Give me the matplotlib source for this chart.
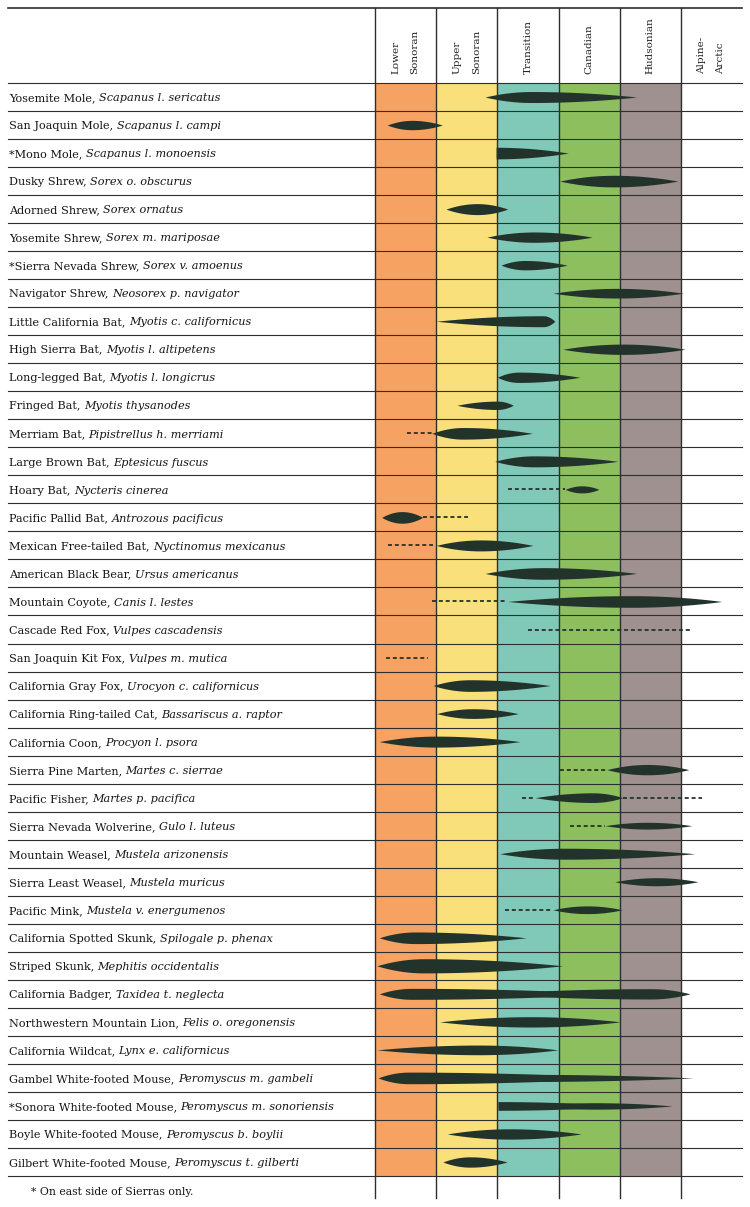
import numpy as np
import matplotlib
matplotlib.use("Agg")
import matplotlib.pyplot as plt

# zones across the top (life zones of the Sierra)
zones = ["Lower\nSonoran", "Upper\nSonoran", "Transition", "Canadian", "Hudsonian", "Alpine-\nArctic"]
zone_colors = ["#f6a263", "#f9e07a", "#80c8b7", "#8dbf5f", "#9e918f", "white"]

common = [
    "Yosemite Mole,", "San Joaquin Mole,", "*Mono Mole,", "Dusky Shrew,", "Adorned Shrew,",
    "Yosemite Shrew,", "*Sierra Nevada Shrew,", "Navigator Shrew,", "Little California Bat,",
    "High Sierra Bat,", "Long-legged Bat,", "Fringed Bat,", "Merriam Bat,", "Large Brown Bat,",
    "Hoary Bat,", "Pacific Pallid Bat,", "Mexican Free-tailed Bat,", "American Black Bear,",
    "Mountain Coyote,", "Cascade Red Fox,", "San Joaquin Kit Fox,", "California Gray Fox,",
    "California Ring-tailed Cat,", "California Coon,", "Sierra Pine Marten,", "Pacific Fisher,",
    "Sierra Nevada Wolverine,", "Mountain Weasel,", "Sierra Least Weasel,", "Pacific Mink,",
    "California Spotted Skunk,", "Striped Skunk,", "California Badger,",
    "Northwestern Mountain Lion,", "California Wildcat,", "Gambel White-footed Mouse,",
    "*Sonora White-footed Mouse,", "Boyle White-footed Mouse,", "Gilbert White-footed Mouse,",
]
latin = [
    "Scapanus l. sericatus", "Scapanus l. campi", "Scapanus l. monoensis", "Sorex o. obscurus",
    "Sorex ornatus", "Sorex m. mariposae", "Sorex v. amoenus", "Neosorex p. navigator",
    "Myotis c. californicus", "Myotis l. altipetens", "Myotis l. longicrus", "Myotis thysanodes",
    "Pipistrellus h. merriami", "Eptesicus fuscus", "Nycteris cinerea", "Antrozous pacificus",
    "Nyctinomus mexicanus", "Ursus americanus", "Canis l. lestes", "Vulpes cascadensis",
    "Vulpes m. mutica", "Urocyon c. californicus", "Bassariscus a. raptor", "Procyon l. psora",
    "Martes c. sierrae", "Martes p. pacifica", "Gulo l. luteus", "Mustela arizonensis",
    "Mustela muricus", "Mustela v. energumenos", "Spilogale p. phenax", "Mephitis occidentalis",
    "Taxidea t. neglecta", "Felis o. oregonensis", "Lynx e. californicus",
    "Peromyscus m. gambeli", "Peromyscus m. sonoriensis", "Peromyscus b. boylii",
    "Peromyscus t. gilberti",
]

# range spindles: row, start, peak, end (in zone units), abundance
sp_row = [0, 1, 2, 3, 4, 5, 6, 7, 8, 9, 10, 11, 12, 13, 14, 15, 16, 17, 18, 21, 22, 23,
          24, 25, 26, 27, 28, 29, 30, 31, 32, 32, 33, 34, 35, 35, 36, 36, 37, 38]
sp_start = [1.80, 0.20, 1.98, 3.02, 1.16, 1.83, 2.06, 2.91, 1.00, 3.07, 2.00, 1.34, 0.93, 1.96,
            3.11, 0.11, 1.00, 1.80, 2.17, 0.95, 1.01, 0.07, 3.79, 2.62, 3.76, 2.04, 3.92, 2.91,
            0.07, 0.03, 0.07, 1.80, 1.06, 0.03, 0.05, 0.50, 2.01, 2.50, 1.18, 1.11]
sp_peak = [2.55, 0.60, 1.98, 3.90, 1.67, 2.60, 2.45, 3.96, 2.75, 4.05, 2.35, 2.00, 1.44, 2.60,
           3.38, 0.44, 1.72, 2.75, 4.20, 1.55, 1.60, 1.00, 4.45, 3.56, 4.45, 3.10, 4.60, 3.47,
           0.65, 0.80, 0.60, 4.50, 2.55, 1.70, 0.55, 2.50, 2.01, 3.60, 2.20, 1.55]
sp_end = [4.28, 1.10, 3.16, 4.95, 2.17, 3.55, 3.14, 5.04, 2.94, 5.07, 3.35, 2.26, 2.57, 3.97,
          3.66, 0.78, 2.58, 4.28, 5.67, 2.86, 2.34, 2.37, 5.13, 4.05, 5.18, 5.23, 5.28, 4.04,
          2.47, 3.07, 3.90, 5.15, 4.01, 2.99, 4.00, 5.20, 4.10, 4.86, 3.37, 2.16]
sp_abund = [0.34, 0.29, 0.36, 0.36, 0.34, 0.32, 0.29, 0.30, 0.34, 0.32, 0.32, 0.26, 0.36, 0.34,
            0.22, 0.36, 0.34, 0.36, 0.36, 0.36, 0.30, 0.34, 0.32, 0.30, 0.21, 0.34, 0.25, 0.24,
            0.36, 0.44, 0.34, 0.32, 0.32, 0.30, 0.36, 0.22, 0.27, 0.20, 0.32, 0.32]

# doubtful / scattered records: row, start, end
ds_row = [12, 14, 15, 16, 18, 19, 20, 24, 25, 25, 26, 29]
ds_start = [0.52, 2.17, 0.78, 0.21, 0.93, 2.50, 0.18, 3.02, 2.40, 4.05, 3.19, 2.13]
ds_end = [0.93, 3.11, 1.52, 0.95, 2.16, 5.15, 0.87, 3.79, 2.62, 5.35, 3.76, 2.91]

ink = "#22332c"
rule = "#2e2e2e"
serif = ["DejaVu Serif"]
thick = 1.15

W, H = 750, 1207
fig = plt.figure(figsize=(W / 100, H / 100), dpi=100)
ax = fig.add_axes([375 / W, 1 - 1176 / H, 367 / W, (1176 - 83) / H])
nrow = len(common)
ax.set_xlim(0, 6)
ax.set_ylim(nrow - 0.5, -0.5)
ax.set_axis_off()

# coloured zone columns
ax.bar(np.arange(5) + 0.5, nrow, bottom=-0.5, width=1.0, color=zone_colors[:5], lw=0, zorder=0)

top = -0.5 - 75 / 28.03
foot = nrow - 0.5 + 22 / 28.03
left = -6.0

# row rules
for y in np.arange(nrow + 1) - 0.5:
    ax.plot([left, 6], [y, y], color=rule, lw=0.8, clip_on=False, zorder=1)
ax.plot([left, 6], [top, top], color=rule, lw=1.2, clip_on=False, zorder=1)
for x in range(6):
    ax.plot([x, x], [top, foot], color=rule, lw=1.0, clip_on=False, zorder=1)

# zone headings
hdr_x = [0.5, 1.5, 2.5, 3.5, 4.5, 5.5]
for x, z in zip(hdr_x, zones):
    ax.text(x, -0.5 - 9 / 28.03, z, rotation=90, ha="center", va="bottom",
            multialignment="left", linespacing=2.4, fontsize=7.5, family=serif,
            color="#222222", clip_on=False)

# species names
for i in range(nrow):
    t1 = ax.text(left + 0.02, i + 0.15, common[i], ha="left", va="baseline",
                 fontsize=8.1, family=serif, color="#151515", clip_on=False)
    ax.annotate(latin[i], xy=(1, 0), xycoords=t1, xytext=(2.3, 0),
                textcoords="offset points", ha="left", va="bottom",
                fontsize=8.1, family=serif, style="italic", color="#151515")

# dashed ranges
for r, a, b in zip(ds_row, ds_start, ds_end):
    ax.plot([a, b], [r, r], color=ink, lw=1.3, ls=(0, (2.2, 1.6)), zorder=3, clip_on=False)

# spindles
for r, a, p, b, h in zip(sp_row, sp_start, sp_peak, sp_end, sp_abund):
    h = h * thick
    xs, hs = [], []
    if p > a:
        x = np.linspace(a, p, 60)
        xs.append(x)
        hs.append(h / 2 * (1 - (1 - (x - a) / (p - a)) ** 2))
    x = np.linspace(p, b, 80)
    xs.append(x)
    hs.append(h / 2 * (1 - (1 - (b - x) / (b - p)) ** 2))
    xs = np.concatenate(xs)
    hs = np.concatenate(hs)
    ax.fill_between(xs, r - hs, r + hs, color=ink, lw=0, zorder=4, clip_on=False)

ax.text(left + 0.37, nrow - 0.5 + 16 / 28.03, "* On east side of Sierras only.",
        ha="left", va="center", fontsize=7.8, family=serif, color="#151515", clip_on=False)

fig.savefig("out.png", dpi=100, facecolor="white")
